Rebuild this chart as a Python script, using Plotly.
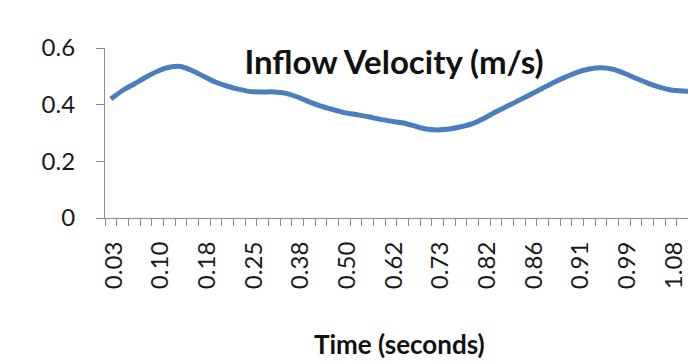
import plotly.graph_objects as go

# Tick labels (time in seconds), shown every 4th sample
time_labels = ["0.03", "0.10", "0.18", "0.25", "0.38", "0.50", "0.62",
               "0.73", "0.82", "0.86", "0.91", "0.99", "1.08"]
label_every = 4

# Inflow velocity (m/s) per sample
velocity = [0.420, 0.450, 0.473, 0.497, 0.518, 0.532, 0.535, 0.520, 0.499, 0.479,
            0.465, 0.454, 0.446, 0.445, 0.445, 0.440, 0.427, 0.410, 0.395, 0.383,
            0.372, 0.365, 0.358, 0.349, 0.342, 0.336, 0.325, 0.314, 0.311, 0.314,
            0.322, 0.333, 0.352, 0.375, 0.395, 0.416, 0.437, 0.458, 0.479, 0.498,
            0.515, 0.526, 0.530, 0.525, 0.511, 0.493, 0.476, 0.462, 0.452, 0.448,
            0.446]

y_ticks = [0, 0.2, 0.4, 0.6]
y_ticktext = ["0", "0.2", "0.4", "0.6"]

idx = list(range(len(velocity)))
tick_idx = [i * label_every for i in range(len(time_labels))]

FONT = "Lato"
AX = "#8c8c8c"

fig = go.Figure()
fig.add_trace(go.Scatter(
    x=idx, y=velocity, mode="lines",
    line=dict(color="#4a7ebf", width=5, shape="spline", smoothing=0.6),
    showlegend=False, hoverinfo="skip",
))

fig.update_layout(
    width=688, height=364,
    margin=dict(l=105, r=0, t=48, b=146),
    paper_bgcolor="white", plot_bgcolor="white",
    font=dict(family=FONT, color="#1a1a1a"),
    title=dict(text="<b>Inflow Velocity (m/s)</b>", font=dict(family=FONT, size=33, color="#111"),
               xref="container", yref="container", x=394 / 688, xanchor="center",
               y=1 - 62 / 364, yanchor="middle"),
)

fig.update_xaxes(
    range=[-0.5, 49.46], showgrid=False, zeroline=False,
    showline=True, linecolor=AX, linewidth=1.2,
    tickmode="array", tickvals=tick_idx, ticktext=time_labels,
    ticks="", tickangle=-90, tickfont=dict(family=FONT, size=24, color="#1a1a1a"),
    ticklabelstandoff=13, ticklabelshift=3,
    minor=dict(ticks="outside", ticklen=7, tickcolor=AX, tickwidth=1.2,
               tick0=-0.5, dtick=1, showgrid=False),
)
fig.update_yaxes(
    range=[0, 0.6], showgrid=False, zeroline=False,
    showline=True, linecolor=AX, linewidth=1.2,
    tickmode="array", tickvals=y_ticks, ticktext=y_ticktext,
    ticks="outside", ticklen=8, tickcolor=AX, tickwidth=1.2,
    tickfont=dict(family=FONT, size=24, color="#1a1a1a"),
    ticklabelstandoff=16,
)

fig.add_annotation(
    text="<b>Time (seconds)</b>", xref="paper", yref="paper",
    x=(399 - 105) / 583, y=(218 - 362) / 170, xanchor="center", yanchor="bottom",
    showarrow=False, font=dict(family=FONT, size=26, color="#111"),
)

fig.write_html("out.html")
